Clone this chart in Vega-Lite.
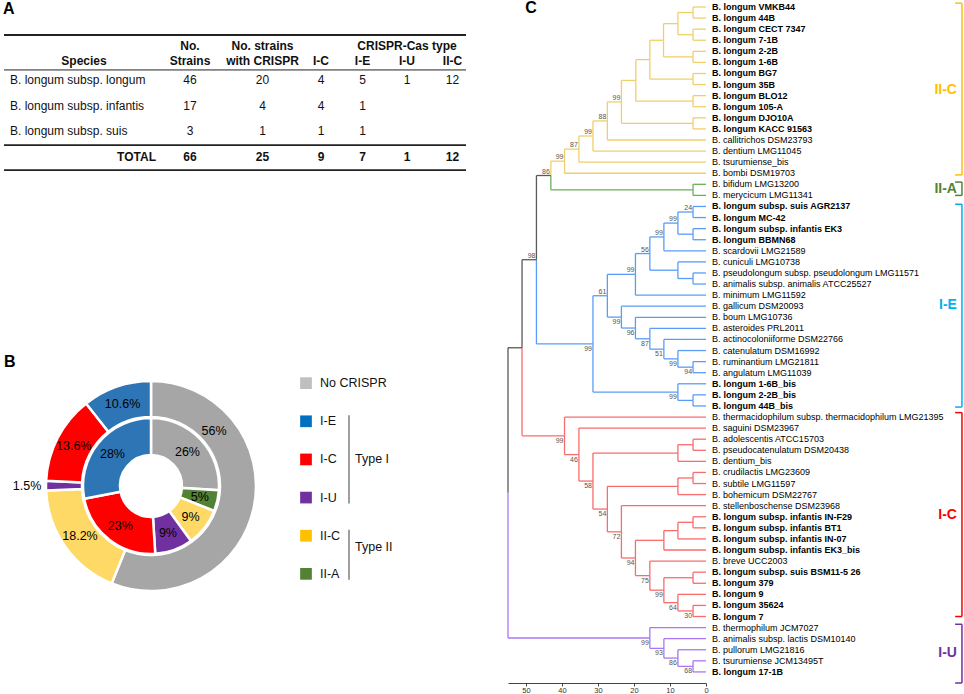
{
  "$schema": "https://vega.github.io/schema/vega-lite/v6.json",
  "padding": {"left": 3, "top": 0, "right": 0, "bottom": 0},
  "background": "white",
  "config": {"view": {"stroke": null}, "font": "Liberation Sans", "axis": {"grid": false, "labelOverlap": false}, "axisX": {"tickCount": 6, "labelOverlap": false, "labelFlush": false}},
  "datasets": {
    "cells": [
      {"r":0,"c":0,"t":"Species"},{"r":0,"c":1,"t":"No.\nStrains"},{"r":0,"c":2,"t":"No. strains\nwith CRISPR"},{"r":0,"c":3,"t":"I-C"},{"r":0,"c":4,"t":"I-E"},{"r":0,"c":5,"t":"CRISPR-Cas type\nI-U"},{"r":0,"c":6,"t":"II-C"},
      {"r":1,"c":0,"t":"B. longum subsp. longum"},{"r":1,"c":1,"t":"46"},{"r":1,"c":2,"t":"20"},{"r":1,"c":3,"t":"4"},{"r":1,"c":4,"t":"5"},{"r":1,"c":5,"t":"1"},{"r":1,"c":6,"t":"12"},
      {"r":2,"c":0,"t":"B. longum subsp. infantis"},{"r":2,"c":1,"t":"17"},{"r":2,"c":2,"t":"4"},{"r":2,"c":3,"t":"4"},{"r":2,"c":4,"t":"1"},
      {"r":3,"c":0,"t":"B. longum subsp. suis"},{"r":3,"c":1,"t":"3"},{"r":3,"c":2,"t":"1"},{"r":3,"c":3,"t":"1"},{"r":3,"c":4,"t":"1"},
      {"r":4,"c":0,"t":"TOTAL"},{"r":4,"c":1,"t":"66"},{"r":4,"c":2,"t":"25"},{"r":4,"c":3,"t":"9"},{"r":4,"c":4,"t":"7"},{"r":4,"c":5,"t":"1"},{"r":4,"c":6,"t":"12"}
    ],
    "tlines": [{"r":-0.77,"edge":"top"},{"r":0.6,"edge":"head"},{"r":3.55,"edge":"total"},{"r":4.53,"edge":"bottom"}],
    "donut": [
      {"ring":"outer","cat":"No CRISPR","pct":56.1,"ord":1,"label":"56%"},
      {"ring":"outer","cat":"II-C","pct":18.2,"ord":2,"label":"18.2%"},
      {"ring":"outer","cat":"I-U","pct":1.5,"ord":3,"label":"1.5%"},
      {"ring":"outer","cat":"I-C","pct":13.6,"ord":4,"label":"13.6%"},
      {"ring":"outer","cat":"I-E","pct":10.6,"ord":5,"label":"10.6%"},
      {"ring":"inner","cat":"No CRISPR","pct":26,"ord":1,"label":"26%"},
      {"ring":"inner","cat":"II-A","pct":5,"ord":2,"label":"5%"},
      {"ring":"inner","cat":"II-C","pct":9,"ord":3,"label":"9%"},
      {"ring":"inner","cat":"I-U","pct":9,"ord":4,"label":"9%"},
      {"ring":"inner","cat":"I-C","pct":23,"ord":5,"label":"23%"},
      {"ring":"inner","cat":"I-E","pct":28,"ord":6,"label":"28%"}
    ],
    "legend": [{"item":"No CRISPR"},{"item":"I-E"},{"item":"I-C"},{"item":"I-U"},{"item":"II-C"},{"item":"II-A"}],
    "types": [{"grp":"Type I","from":"I-E","to":"I-U","mid":"I-C"},{"grp":"Type II","from":"II-C","to":"II-A","mid":"II-C"}],
    "clades": [
      {"cl":"II-C","y1":0.65,"y2":16.15,"ym":8.5},
      {"cl":"II-A","y1":16.8,"y2":18.0,"ym":17.4},
      {"cl":"I-E","y1":18.8,"y2":37.1,"ym":27.9},
      {"cl":"I-C","y1":37.6,"y2":56.0,"ym":46.8},
      {"cl":"I-U","y1":56.7,"y2":62.0,"ym":59.3}
    ],
    "nodes": [
      {"id":"R","d":55,"yi":44.843,"cl":"none"},
      {"id":"G","p":"R","d":51.1,"yi":31.749,"cl":"none","ch":1},
      {"id":"UR","p":"R","d":15.6,"yi":57.938,"cl":"I-U","bs":"99","ch":2},
      {"id":"F","p":"G","d":47.1,"yi":23.804,"cl":"none","bs":"98","ch":1},
      {"id":"H","p":"G","d":39.3,"yi":39.694,"cl":"I-C","bs":"99","ch":2},
      {"id":"E","p":"F","d":43.1,"yi":16.205,"cl":"none","bs":"86","ch":1},
      {"id":"BR","p":"F","d":31.4,"yi":31.402,"cl":"I-E","bs":"99","ch":2},
      {"id":"D","p":"E","d":39.3,"yi":14.910,"cl":"II-C","bs":"99","ch":1},
      {"id":"GA","p":"E","d":3.6,"yi":17.5,"cl":"II-A","ch":2},
      {"id":"C","p":"D","d":35.3,"yi":13.820,"cl":"II-C","bs":"87","ch":1},
      {"id":"B","p":"C","d":31.4,"yi":12.641,"cl":"II-C","bs":"99","ch":1},
      {"id":"A","p":"B","d":27.4,"yi":11.281,"cl":"II-C","bs":"88","ch":1},
      {"id":"Y112","p":"A","d":23.5,"yi":9.5625,"cl":"II-C","bs":"99","ch":1},
      {"id":"Y110","p":"Y112","d":19.5,"yi":7.625,"cl":"II-C","ch":1},
      {"id":"Y1112","p":"Y112","d":3.6,"yi":11.5,"cl":"II-C","ch":2},
      {"id":"Y18","p":"Y110","d":15.6,"yi":5.75,"cl":"II-C","ch":1},
      {"id":"Y910","p":"Y110","d":3.6,"yi":9.5,"cl":"II-C","ch":2},
      {"id":"Y16","p":"Y18","d":11.8,"yi":4,"cl":"II-C","ch":1},
      {"id":"Y78","p":"Y18","d":3.6,"yi":7.5,"cl":"II-C","ch":2},
      {"id":"Y14","p":"Y16","d":7.8,"yi":2.5,"cl":"II-C","ch":1},
      {"id":"Y56","p":"Y16","d":3.6,"yi":5.5,"cl":"II-C","ch":2},
      {"id":"Y12","p":"Y14","d":3.6,"yi":1.5,"cl":"II-C","ch":1},
      {"id":"Y34","p":"Y14","d":3.6,"yi":3.5,"cl":"II-C","ch":2},
      {"id":"B34","p":"BR","d":27.4,"yi":27.055,"cl":"I-E","bs":"61","ch":1},
      {"id":"B37","p":"BR","d":7.8,"yi":35.75,"cl":"I-E","bs":"99","ch":2},
      {"id":"B27","p":"B34","d":19.6,"yi":25.125,"cl":"I-E","bs":"99","ch":1},
      {"id":"B28","p":"B34","d":23.5,"yi":28.984,"cl":"I-E","bs":"99","ch":2},
      {"id":"B26","p":"B27","d":15.6,"yi":23.25,"cl":"I-E","bs":"56","ch":1},
      {"id":"B23","p":"B26","d":11.7,"yi":21.75,"cl":"I-E","bs":"99","ch":1},
      {"id":"B2426","p":"B26","d":7.8,"yi":24.75,"cl":"I-E","ch":2},
      {"id":"B22","p":"B23","d":7.8,"yi":20.5,"cl":"I-E","bs":"99","ch":1},
      {"id":"B1920","p":"B22","d":3.6,"yi":19.5,"cl":"I-E","bs":"24","ch":1},
      {"id":"B2122","p":"B22","d":3.6,"yi":21.5,"cl":"I-E","ch":2},
      {"id":"B2526","p":"B2426","d":3.6,"yi":25.5,"cl":"I-E","ch":2},
      {"id":"B29","p":"B28","d":19.6,"yi":29.969,"cl":"I-E","bs":"96","ch":2},
      {"id":"B30","p":"B29","d":15.6,"yi":30.938,"cl":"I-E","bs":"87","ch":2},
      {"id":"B31","p":"B30","d":11.7,"yi":31.875,"cl":"I-E","bs":"51","ch":2},
      {"id":"B32","p":"B31","d":7.8,"yi":32.75,"cl":"I-E","bs":"99","ch":2},
      {"id":"B3334","p":"B32","d":3.6,"yi":33.5,"cl":"I-E","bs":"94","ch":2},
      {"id":"B3637","p":"B37","d":3.6,"yi":36.5,"cl":"I-E","ch":2},
      {"id":"I","p":"H","d":35.3,"yi":41.389,"cl":"I-C","bs":"46","ch":2},
      {"id":"J","p":"I","d":31.4,"yi":43.777,"cl":"I-C","bs":"58","ch":2},
      {"id":"R42","p":"J","d":7.8,"yi":41.25,"cl":"I-C","ch":1},
      {"id":"K","p":"J","d":27.4,"yi":46.305,"cl":"I-C","bs":"54","ch":2},
      {"id":"R4041","p":"R42","d":3.6,"yi":40.5,"cl":"I-C","ch":1},
      {"id":"R45","p":"K","d":7.8,"yi":44.25,"cl":"I-C","ch":1},
      {"id":"L","p":"K","d":23.5,"yi":48.359,"cl":"I-C","bs":"72","ch":2},
      {"id":"R4344","p":"R45","d":3.6,"yi":43.5,"cl":"I-C","ch":1},
      {"id":"M","p":"L","d":19.6,"yi":50.719,"cl":"I-C","bs":"94","ch":2},
      {"id":"R50","p":"M","d":11.7,"yi":49.125,"cl":"I-C","ch":1},
      {"id":"N","p":"M","d":15.6,"yi":52.3125,"cl":"I-C","bs":"75","ch":2},
      {"id":"R49","p":"R50","d":7.8,"yi":48.25,"cl":"I-C","ch":1},
      {"id":"R4748","p":"R49","d":3.6,"yi":47.5,"cl":"I-C","ch":1},
      {"id":"O","p":"N","d":11.7,"yi":53.625,"cl":"I-C","bs":"99","ch":2},
      {"id":"R5253","p":"O","d":3.6,"yi":52.5,"cl":"I-C","ch":1},
      {"id":"P","p":"O","d":7.8,"yi":54.75,"cl":"I-C","bs":"64","ch":2},
      {"id":"Q","p":"P","d":3.6,"yi":55.5,"cl":"I-C","bs":"30","ch":2},
      {"id":"U2","p":"UR","d":11.7,"yi":58.875,"cl":"I-U","bs":"93","ch":2},
      {"id":"U3","p":"U2","d":7.8,"yi":59.75,"cl":"I-U","bs":"86","ch":2},
      {"id":"U4","p":"U3","d":3.6,"yi":60.5,"cl":"I-U","bs":"68","ch":2},
      {"id":"L1","p":"Y12","d":0,"yi":1,"cl":"II-C","lab":"B. longum VMKB44"},
      {"id":"L2","p":"Y12","d":0,"yi":2,"cl":"II-C","lab":"B. longum 44B"},
      {"id":"L3","p":"Y34","d":0,"yi":3,"cl":"II-C","lab":"B. longum CECT 7347"},
      {"id":"L4","p":"Y34","d":0,"yi":4,"cl":"II-C","lab":"B. longum 7-1B"},
      {"id":"L5","p":"Y56","d":0,"yi":5,"cl":"II-C","lab":"B. longum 2-2B"},
      {"id":"L6","p":"Y56","d":0,"yi":6,"cl":"II-C","lab":"B. longum 1-6B"},
      {"id":"L7","p":"Y78","d":0,"yi":7,"cl":"II-C","lab":"B. longum BG7"},
      {"id":"L8","p":"Y78","d":0,"yi":8,"cl":"II-C","lab":"B. longum 35B"},
      {"id":"L9","p":"Y910","d":0,"yi":9,"cl":"II-C","lab":"B. longum BLO12"},
      {"id":"L10","p":"Y910","d":0,"yi":10,"cl":"II-C","lab":"B. longum 105-A"},
      {"id":"L11","p":"Y1112","d":0,"yi":11,"cl":"II-C","lab":"B. longum DJO10A"},
      {"id":"L12","p":"Y1112","d":0,"yi":12,"cl":"II-C","lab":"B. longum KACC 91563"},
      {"id":"L13","p":"A","d":0,"yi":13,"cl":"II-C","lab":"B. callitrichos DSM23793"},
      {"id":"L14","p":"B","d":0,"yi":14,"cl":"II-C","lab":"B. dentium LMG11045"},
      {"id":"L15","p":"C","d":0,"yi":15,"cl":"II-C","lab":"B. tsurumiense_bis"},
      {"id":"L16","p":"D","d":0,"yi":16,"cl":"II-C","lab":"B. bombi DSM19703"},
      {"id":"L17","p":"GA","d":0,"yi":17,"cl":"II-A","lab":"B. bifidum LMG13200"},
      {"id":"L18","p":"GA","d":0,"yi":18,"cl":"II-A","lab":"B. merycicum LMG11341"},
      {"id":"L19","p":"B1920","d":0,"yi":19,"cl":"I-E","lab":"B. longum subsp. suis AGR2137"},
      {"id":"L20","p":"B1920","d":0,"yi":20,"cl":"I-E","lab":"B. longum MC-42"},
      {"id":"L21","p":"B2122","d":0,"yi":21,"cl":"I-E","lab":"B. longum subsp. infantis EK3"},
      {"id":"L22","p":"B2122","d":0,"yi":22,"cl":"I-E","lab":"B. longum BBMN68"},
      {"id":"L23","p":"B23","d":0,"yi":23,"cl":"I-E","lab":"B. scardovii LMG21589"},
      {"id":"L24","p":"B2426","d":0,"yi":24,"cl":"I-E","lab":"B. cuniculi LMG10738"},
      {"id":"L25","p":"B2526","d":0,"yi":25,"cl":"I-E","lab":"B. pseudolongum subsp. pseudolongum LMG11571"},
      {"id":"L26","p":"B2526","d":0,"yi":26,"cl":"I-E","lab":"B. animalis subsp. animalis ATCC25527"},
      {"id":"L27","p":"B27","d":0,"yi":27,"cl":"I-E","lab":"B. minimum LMG11592"},
      {"id":"L28","p":"B28","d":0,"yi":28,"cl":"I-E","lab":"B. gallicum DSM20093"},
      {"id":"L29","p":"B29","d":0,"yi":29,"cl":"I-E","lab":"B. boum LMG10736"},
      {"id":"L30","p":"B30","d":0,"yi":30,"cl":"I-E","lab":"B. asteroides PRL2011"},
      {"id":"L31","p":"B31","d":0,"yi":31,"cl":"I-E","lab":"B. actinocoloniiforme DSM22766"},
      {"id":"L32","p":"B32","d":0,"yi":32,"cl":"I-E","lab":"B. catenulatum DSM16992"},
      {"id":"L33","p":"B3334","d":0,"yi":33,"cl":"I-E","lab":"B. ruminantium LMG21811"},
      {"id":"L34","p":"B3334","d":0,"yi":34,"cl":"I-E","lab":"B. angulatum LMG11039"},
      {"id":"L35","p":"B37","d":0,"yi":35,"cl":"I-E","lab":"B. longum 1-6B_bis"},
      {"id":"L36","p":"B3637","d":0,"yi":36,"cl":"I-E","lab":"B. longum 2-2B_bis"},
      {"id":"L37","p":"B3637","d":0,"yi":37,"cl":"I-E","lab":"B. longum 44B_bis"},
      {"id":"L38","p":"H","d":0,"yi":38,"cl":"I-C","lab":"B. thermacidophilum subsp. thermacidophilum LMG21395"},
      {"id":"L39","p":"I","d":0,"yi":39,"cl":"I-C","lab":"B. saguini DSM23967"},
      {"id":"L40","p":"R4041","d":0,"yi":40,"cl":"I-C","lab":"B. adolescentis ATCC15703"},
      {"id":"L41","p":"R4041","d":0,"yi":41,"cl":"I-C","lab":"B. pseudocatenulatum DSM20438"},
      {"id":"L42","p":"R42","d":0,"yi":42,"cl":"I-C","lab":"B. dentium_bis"},
      {"id":"L43","p":"R4344","d":0,"yi":43,"cl":"I-C","lab":"B. crudilactis LMG23609"},
      {"id":"L44","p":"R4344","d":0,"yi":44,"cl":"I-C","lab":"B. subtile LMG11597"},
      {"id":"L45","p":"R45","d":0,"yi":45,"cl":"I-C","lab":"B. bohemicum DSM22767"},
      {"id":"L46","p":"L","d":0,"yi":46,"cl":"I-C","lab":"B. stellenboschense DSM23968"},
      {"id":"L47","p":"R4748","d":0,"yi":47,"cl":"I-C","lab":"B. longum subsp. infantis IN-F29"},
      {"id":"L48","p":"R4748","d":0,"yi":48,"cl":"I-C","lab":"B. longum subsp. infantis BT1"},
      {"id":"L49","p":"R49","d":0,"yi":49,"cl":"I-C","lab":"B. longum subsp. infantis IN-07"},
      {"id":"L50","p":"R50","d":0,"yi":50,"cl":"I-C","lab":"B. longum subsp. infantis EK3_bis"},
      {"id":"L51","p":"N","d":0,"yi":51,"cl":"I-C","lab":"B. breve UCC2003"},
      {"id":"L52","p":"R5253","d":0,"yi":52,"cl":"I-C","lab":"B. longum subsp. suis BSM11-5 26"},
      {"id":"L53","p":"R5253","d":0,"yi":53,"cl":"I-C","lab":"B. longum 379"},
      {"id":"L54","p":"P","d":0,"yi":54,"cl":"I-C","lab":"B. longum 9"},
      {"id":"L55","p":"Q","d":0,"yi":55,"cl":"I-C","lab":"B. longum 35624"},
      {"id":"L56","p":"Q","d":0,"yi":56,"cl":"I-C","lab":"B. longum 7"},
      {"id":"L57","p":"UR","d":0,"yi":57,"cl":"I-U","lab":"B. thermophilum JCM7027"},
      {"id":"L58","p":"U2","d":0,"yi":58,"cl":"I-U","lab":"B. animalis subsp. lactis DSM10140"},
      {"id":"L59","p":"U3","d":0,"yi":59,"cl":"I-U","lab":"B. pullorum LMG21816"},
      {"id":"L60","p":"U4","d":0,"yi":60,"cl":"I-U","lab":"B. tsurumiense JCM13495T"},
      {"id":"L61","p":"U4","d":0,"yi":61,"cl":"I-U","lab":"B. longum 17-1B"}
    ]
  },
  "spacing": 40,
  "resolve": {"scale": {"x": "independent", "y": "independent", "color": "independent", "stroke": "independent"}},
  "hconcat": [
    {
      "spacing": 173,
      "resolve": {"scale": {"x": "independent", "y": "independent", "color": "independent"}},
      "vconcat": [
        {
          "width": 462,
          "height": 172,
          "title": {"text": "A", "anchor": "start", "offset": -17, "fontSize": 16, "fontWeight": "bold"},
          "data": {"name": "cells"},
          "layer": [
            {
              "data": {"name": "tlines"},
              "transform": [{"filter": "datum.edge != 'head'"}],
              "mark": {"type": "rule", "color": "#222222", "strokeWidth": 1.8},
              "encoding": {"y": {"field": "r", "type": "quantitative", "scale": {"domain": [-2.141, 4.6], "reverse": true, "nice": false, "zero": false}, "axis": null}}
            },
            {
              "data": {"name": "tlines"},
              "transform": [{"filter": "datum.edge == 'head'"}],
              "mark": {"type": "rule", "color": "#222222", "strokeWidth": 1},
              "encoding": {"y": {"field": "r", "type": "quantitative", "axis": null}}
            },
            {
              "transform": [{"filter": "datum.r == 0 && datum.c > 0 && indexof(datum.t, '\\n') >= 0"}],
              "mark": {"type": "text", "align": "center", "baseline": "top", "dy": -13.6, "fontSize": 12, "fontWeight": "bold", "lineBreak": "\n", "lineHeight": 15, "color": "#111111"},
              "encoding": {
                "x": {"field": "c", "type": "quantitative", "scale": {"domain": [0, 1, 2, 3, 4, 5, 6], "range": [6, 186, 258.5, 317, 358.5, 403, 448.5]}, "axis": null},
                "y": {"field": "r", "type": "quantitative", "axis": null},
                "text": {"field": "t"}
              }
            },
            {
              "transform": [{"filter": "datum.r == 0 && datum.c > 0 && indexof(datum.t, '\\n') < 0"}],
              "mark": {"type": "text", "align": "center", "baseline": "top", "dy": 1.4, "fontSize": 12, "fontWeight": "bold", "color": "#111111"},
              "encoding": {"x": {"field": "c", "type": "quantitative", "axis": null}, "y": {"field": "r", "type": "quantitative", "axis": null}, "text": {"field": "t"}}
            },
            {
              "transform": [{"filter": "datum.r == 0 && datum.c == 0"}],
              "mark": {"type": "text", "align": "center", "baseline": "top", "dy": 1.4, "dx": 74, "fontSize": 12, "fontWeight": "bold", "color": "#111111"},
              "encoding": {"x": {"field": "c", "type": "quantitative", "axis": null}, "y": {"field": "r", "type": "quantitative", "axis": null}, "text": {"field": "t"}}
            },
            {
              "transform": [{"filter": "datum.r >= 1 && datum.r <= 3 && datum.c == 0"}],
              "mark": {"type": "text", "align": "left", "baseline": "middle", "fontSize": 12, "color": "#111111"},
              "encoding": {"x": {"field": "c", "type": "quantitative", "axis": null}, "y": {"field": "r", "type": "quantitative", "axis": null}, "text": {"field": "t"}}
            },
            {
              "transform": [{"filter": "datum.r >= 1 && datum.r <= 3 && datum.c > 0"}],
              "mark": {"type": "text", "align": "center", "baseline": "middle", "fontSize": 12, "color": "#111111"},
              "encoding": {"x": {"field": "c", "type": "quantitative", "axis": null}, "y": {"field": "r", "type": "quantitative", "axis": null}, "text": {"field": "t"}}
            },
            {
              "transform": [{"filter": "datum.r == 4 && datum.c > 0"}],
              "mark": {"type": "text", "align": "center", "baseline": "middle", "fontSize": 12, "fontWeight": "bold", "color": "#111111"},
              "encoding": {"x": {"field": "c", "type": "quantitative", "axis": null}, "y": {"field": "r", "type": "quantitative", "axis": null}, "text": {"field": "t"}}
            },
            {
              "transform": [{"filter": "datum.r == 4 && datum.c == 0"}],
              "mark": {"type": "text", "align": "right", "baseline": "middle", "dx": 146, "fontSize": 12, "fontWeight": "bold", "color": "#111111"},
              "encoding": {"x": {"field": "c", "type": "quantitative", "axis": null}, "y": {"field": "r", "type": "quantitative", "axis": null}, "text": {"field": "t"}}
            }
          ]
        },
        {
          "spacing": -13,
          "resolve": {"scale": {"x": "independent", "y": "independent", "color": "independent"}},
          "hconcat": [
            {
              "width": 294,
              "height": 282,
              "title": {"text": "B", "anchor": "start", "offset": -25, "fontSize": 16, "fontWeight": "bold"},
              "data": {"name": "donut"},
              "layer": [
                {
                  "transform": [{"filter": "datum.ring == 'outer'"}],
                  "mark": {"type": "arc", "radius": 105, "radius2": 69, "stroke": "white", "strokeWidth": 2.5},
                  "encoding": {
                    "theta": {"field": "pct", "type": "quantitative", "stack": true},
                    "order": {"field": "ord", "type": "quantitative"},
                    "color": {"field": "cat", "type": "nominal", "legend": null, "scale": {"domain": ["No CRISPR", "I-E", "I-C", "I-U", "II-C", "II-A"], "range": ["#a6a6a6", "#2e75b6", "#ff0000", "#7030a0", "#ffd966", "#548235"]}}
                  }
                },
                {
                  "transform": [{"filter": "datum.ring == 'inner'"}],
                  "mark": {"type": "arc", "radius": 68, "radius2": 31, "stroke": "white", "strokeWidth": 2.5},
                  "encoding": {
                    "theta": {"field": "pct", "type": "quantitative", "stack": true},
                    "order": {"field": "ord", "type": "quantitative"},
                    "color": {"field": "cat", "type": "nominal", "legend": null}
                  }
                },
                {
                  "transform": [{"filter": "datum.ring == 'outer'"}],
                  "mark": {"type": "text", "radius": 87, "fontSize": 12.5, "color": "#000000"},
                  "encoding": {
                    "theta": {"field": "pct", "type": "quantitative", "stack": true},
                    "order": {"field": "ord", "type": "quantitative"},
                    "text": {"field": "label"},
                    "fillOpacity": {"condition": {"test": "datum.cat == 'No CRISPR' || datum.cat == 'I-U'", "value": 0}, "value": 1}
                  }
                },
                {
                  "transform": [{"filter": "datum.ring == 'outer'"}],
                  "mark": {"type": "text", "radius": 124, "fontSize": 12.5, "color": "#000000"},
                  "encoding": {
                    "theta": {"field": "pct", "type": "quantitative", "stack": true},
                    "order": {"field": "ord", "type": "quantitative"},
                    "text": {"field": "label"},
                    "fillOpacity": {"condition": {"test": "datum.cat == 'I-U'", "value": 1}, "value": 0}
                  }
                },
                {
                  "transform": [{"filter": "datum.ring == 'outer' && datum.cat == 'No CRISPR'"}],
                  "mark": {"type": "text", "radius": 84, "theta": 0.85, "fontSize": 12.5, "color": "#000000"},
                  "encoding": {"text": {"field": "label"}}
                },
                {
                  "transform": [{"filter": "datum.ring == 'inner'"}],
                  "mark": {"type": "text", "radius": 50, "fontSize": 12.5, "color": "#000000"},
                  "encoding": {
                    "theta": {"field": "pct", "type": "quantitative", "stack": true},
                    "order": {"field": "ord", "type": "quantitative"},
                    "text": {"field": "label"}
                  }
                }
              ]
            },
            {
              "width": 100,
              "height": 267,
              "layer": [
                {
                  "data": {"name": "legend"},
                  "mark": {"type": "point", "shape": "square", "filled": true, "size": 137, "opacity": 1},
                  "encoding": {
                    "x": {"datum": 8, "type": "quantitative", "scale": {"domain": [0, 100], "nice": false, "zero": false}, "axis": null},
                    "y": {"field": "item", "type": "nominal", "scale": {"type": "point", "domain": ["No CRISPR", "I-E", "I-C", "I-U", "II-C", "II-A"], "padding": 3.313}, "axis": null},
                    "color": {"field": "item", "type": "nominal", "legend": null, "scale": {"domain": ["No CRISPR", "I-E", "I-C", "I-U", "II-C", "II-A"], "range": ["#bfbfbf", "#0070c0", "#ff0000", "#7030a0", "#ffc000", "#548235"]}}
                  }
                },
                {
                  "data": {"name": "legend"},
                  "mark": {"type": "text", "align": "left", "baseline": "middle", "fontSize": 12.5, "color": "#111111"},
                  "encoding": {
                    "x": {"datum": 22, "type": "quantitative", "axis": null},
                    "y": {"field": "item", "type": "nominal", "axis": null},
                    "text": {"field": "item"}
                  }
                },
                {
                  "data": {"name": "types"},
                  "mark": {"type": "rule", "color": "#7f7f7f", "strokeWidth": 1.5, "yOffset": -6, "y2Offset": 6},
                  "encoding": {
                    "x": {"datum": 51, "type": "quantitative", "axis": null},
                    "y": {"field": "from", "type": "nominal", "axis": null},
                    "y2": {"field": "to"}
                  }
                },
                {
                  "data": {"name": "types"},
                  "transform": [{"filter": "datum.grp == 'Type I'"}],
                  "mark": {"type": "text", "align": "left", "baseline": "middle", "fontSize": 12.5, "color": "#111111"},
                  "encoding": {
                    "x": {"datum": 57, "type": "quantitative", "axis": null},
                    "y": {"field": "mid", "type": "nominal", "axis": null},
                    "text": {"field": "grp"}
                  }
                },
                {
                  "data": {"name": "types"},
                  "transform": [{"filter": "datum.grp == 'Type II'"}],
                  "mark": {"type": "text", "align": "left", "baseline": "middle", "dy": 11.5, "fontSize": 12.5, "color": "#111111"},
                  "encoding": {
                    "x": {"datum": 57, "type": "quantitative", "axis": null},
                    "y": {"field": "from", "type": "nominal", "axis": null},
                    "text": {"field": "grp"}
                  }
                }
              ]
            }
          ]
        }
      ]
    },
    {
      "width": 198,
      "height": 683,
      "title": {"text": "C", "anchor": "start", "offset": -16, "dx": 18, "fontSize": 16, "fontWeight": "bold"},
      "data": {"name": "nodes"},
      "layer": [
        {
          "transform": [
            {"lookup": "p", "from": {"data": {"name": "nodes"}, "key": "id", "fields": ["d", "yi"]}, "as": ["pd", "pyi"]},
            {"filter": "isValid(datum.p)"}
          ],
          "mark": {"type": "rule", "strokeWidth": 1.3},
          "encoding": {
            "x": {"field": "pd", "type": "quantitative", "title": null, "scale": {"domain": [0, 55], "reverse": true, "nice": false, "zero": false},
                  "axis": {"values": [0, 10, 20, 30, 40, 50], "tickCount": 6, "title": null, "grid": false, "labelFontSize": 7.5, "tickSize": 3, "labelPadding": 0, "labelFlush": false, "labelOverlap": false, "labelBound": false, "domainColor": "#444444", "tickColor": "#444444", "labelColor": "#333333"}},
            "y": {"field": "pyi", "type": "quantitative", "title": null, "scale": {"domain": [0.368, 62], "reverse": true, "nice": false, "zero": false}, "axis": null},
            "y2": {"field": "yi"},
            "stroke": {"field": "cl", "type": "nominal", "legend": null, "scale": {"domain": ["II-C", "II-A", "I-E", "I-C", "I-U", "none"], "range": ["#f0cf6a", "#6cae5c", "#5b9cf8", "#fa6b6b", "#a977f3", "#5a5a5a"]}}
          }
        },
        {
          "transform": [
            {"lookup": "p", "from": {"data": {"name": "nodes"}, "key": "id", "fields": ["d", "yi"]}, "as": ["pd", "pyi"]},
            {"filter": "isValid(datum.p)"}
          ],
          "mark": {"type": "rule", "strokeWidth": 1.3},
          "encoding": {
            "x": {"field": "pd", "type": "quantitative", "title": null, "axis": {"values": [0, 10, 20, 30, 40, 50], "tickCount": 6, "title": null, "grid": false, "labelFontSize": 7.5, "tickSize": 3, "labelPadding": 0, "labelFlush": false, "labelOverlap": false, "labelBound": false, "domainColor": "#444444", "tickColor": "#444444", "labelColor": "#333333"}},
            "x2": {"field": "d"},
            "y": {"field": "yi", "type": "quantitative", "title": null, "axis": null},
            "stroke": {"field": "cl", "type": "nominal", "legend": null}
          }
        },
        {
          "transform": [{"filter": "datum.lab && indexof(datum.lab, 'B. longum') != 0"}],
          "mark": {"type": "text", "align": "left", "baseline": "middle", "dx": 6, "fontSize": 9, "color": "#000000"},
          "encoding": {
            "x": {"field": "d", "type": "quantitative", "title": null, "axis": {"values": [0, 10, 20, 30, 40, 50], "tickCount": 6, "title": null, "grid": false, "labelFontSize": 7.5, "tickSize": 3, "labelPadding": 0, "labelFlush": false, "labelOverlap": false, "labelBound": false, "domainColor": "#444444", "tickColor": "#444444", "labelColor": "#333333"}},
            "y": {"field": "yi", "type": "quantitative", "title": null, "axis": null},
            "text": {"field": "lab"}
          }
        },
        {
          "transform": [{"filter": "datum.lab && indexof(datum.lab, 'B. longum') == 0"}],
          "mark": {"type": "text", "align": "left", "baseline": "middle", "dx": 6, "fontSize": 9, "fontWeight": "bold", "color": "#000000"},
          "encoding": {
            "x": {"field": "d", "type": "quantitative", "title": null, "axis": {"values": [0, 10, 20, 30, 40, 50], "tickCount": 6, "title": null, "grid": false, "labelFontSize": 7.5, "tickSize": 3, "labelPadding": 0, "labelFlush": false, "labelOverlap": false, "labelBound": false, "domainColor": "#444444", "tickColor": "#444444", "labelColor": "#333333"}},
            "y": {"field": "yi", "type": "quantitative", "title": null, "axis": null},
            "text": {"field": "lab"}
          }
        },
        {
          "transform": [{"filter": "datum.bs && datum.ch == 1"}],
          "mark": {"type": "text", "align": "right", "baseline": "bottom", "dx": -1, "dy": -1, "fontSize": 7, "color": "#555555"},
          "encoding": {
            "x": {"field": "d", "type": "quantitative", "title": null, "axis": {"values": [0, 10, 20, 30, 40, 50], "tickCount": 6, "title": null, "grid": false, "labelFontSize": 7.5, "tickSize": 3, "labelPadding": 0, "labelFlush": false, "labelOverlap": false, "labelBound": false, "domainColor": "#444444", "tickColor": "#444444", "labelColor": "#333333"}},
            "y": {"field": "yi", "type": "quantitative", "title": null, "axis": null},
            "text": {"field": "bs"}
          }
        },
        {
          "transform": [{"filter": "datum.bs && datum.ch == 2"}],
          "mark": {"type": "text", "align": "right", "baseline": "top", "dx": -1, "dy": 1, "fontSize": 7, "color": "#555555"},
          "encoding": {
            "x": {"field": "d", "type": "quantitative", "title": null, "axis": {"values": [0, 10, 20, 30, 40, 50], "tickCount": 6, "title": null, "grid": false, "labelFontSize": 7.5, "tickSize": 3, "labelPadding": 0, "labelFlush": false, "labelOverlap": false, "labelBound": false, "domainColor": "#444444", "tickColor": "#444444", "labelColor": "#333333"}},
            "y": {"field": "yi", "type": "quantitative", "title": null, "axis": null},
            "text": {"field": "bs"}
          }
        },
        {
          "data": {"name": "clades"},
          "mark": {"type": "rule", "strokeWidth": 1.5},
          "encoding": {
            "x": {"datum": -71.1, "type": "quantitative", "axis": {"values": [0, 10, 20, 30, 40, 50], "tickCount": 6, "title": null, "grid": false, "labelFontSize": 7.5, "tickSize": 3, "labelPadding": 0, "labelFlush": false, "labelOverlap": false, "labelBound": false, "domainColor": "#444444", "tickColor": "#444444", "labelColor": "#333333"}},
            "y": {"field": "y1", "type": "quantitative", "title": null, "axis": null},
            "y2": {"field": "y2"},
            "color": {"field": "cl", "type": "nominal", "legend": null, "scale": {"domain": ["II-C", "II-A", "I-E", "I-C", "I-U"], "range": ["#ffc000", "#548235", "#00b0f0", "#ff0000", "#7030a0"]}}
          }
        },
        {
          "data": {"name": "clades"},
          "mark": {"type": "rule", "strokeWidth": 1.5},
          "encoding": {
            "x": {"datum": -69.2, "type": "quantitative", "axis": {"values": [0, 10, 20, 30, 40, 50], "tickCount": 6, "title": null, "grid": false, "labelFontSize": 7.5, "tickSize": 3, "labelPadding": 0, "labelFlush": false, "labelOverlap": false, "labelBound": false, "domainColor": "#444444", "tickColor": "#444444", "labelColor": "#333333"}},
            "x2": {"datum": -71.1},
            "y": {"field": "y1", "type": "quantitative", "title": null, "axis": null},
            "color": {"field": "cl", "type": "nominal", "legend": null}
          }
        },
        {
          "data": {"name": "clades"},
          "mark": {"type": "rule", "strokeWidth": 1.5},
          "encoding": {
            "x": {"datum": -69.2, "type": "quantitative", "axis": {"values": [0, 10, 20, 30, 40, 50], "tickCount": 6, "title": null, "grid": false, "labelFontSize": 7.5, "tickSize": 3, "labelPadding": 0, "labelFlush": false, "labelOverlap": false, "labelBound": false, "domainColor": "#444444", "tickColor": "#444444", "labelColor": "#333333"}},
            "x2": {"datum": -71.1},
            "y": {"field": "y2", "type": "quantitative", "title": null, "axis": null},
            "color": {"field": "cl", "type": "nominal", "legend": null}
          }
        },
        {
          "data": {"name": "clades"},
          "mark": {"type": "text", "align": "right", "baseline": "middle", "dx": -5, "fontSize": 14, "fontWeight": "bold"},
          "encoding": {
            "x": {"datum": -71.1, "type": "quantitative", "axis": {"values": [0, 10, 20, 30, 40, 50], "tickCount": 6, "title": null, "grid": false, "labelFontSize": 7.5, "tickSize": 3, "labelPadding": 0, "labelFlush": false, "labelOverlap": false, "labelBound": false, "domainColor": "#444444", "tickColor": "#444444", "labelColor": "#333333"}},
            "y": {"field": "ym", "type": "quantitative", "title": null, "axis": null},
            "text": {"field": "cl"},
            "color": {"field": "cl", "type": "nominal", "legend": null}
          }
        }
      ]
    }
  ]
}
